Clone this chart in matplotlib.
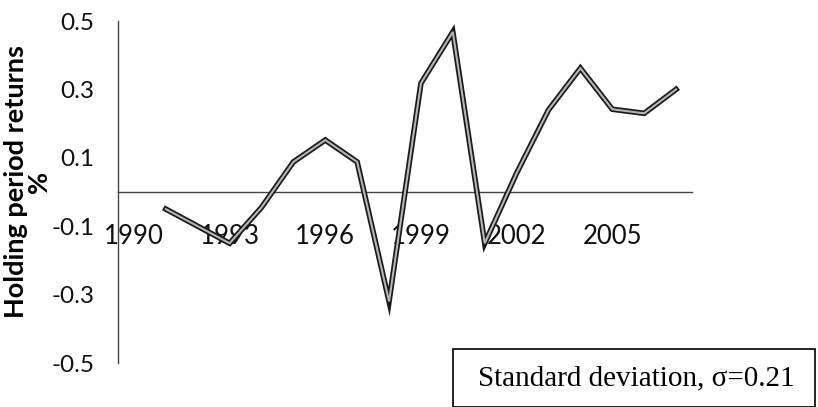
import matplotlib
matplotlib.use("Agg")
import matplotlib.pyplot as plt
from matplotlib.patches import Rectangle

# Annual holding period returns
years = list(range(1990, 2008))
returns = [None, -0.05, -0.10, -0.15, -0.045, 0.088, 0.152, 0.088, -0.32, 0.318,
           0.468, -0.15, 0.055, 0.24, 0.362, 0.242, 0.23, 0.30]
yticks = [-0.5, -0.3, -0.1, 0.1, 0.3, 0.5]
label_years = [1990, 1993, 1996, 1999, 2002, 2005]
note = "Standard deviation, \u03c3=0.21"

plt.rcParams['font.family'] = ['Lato', 'DejaVu Sans']

fig = plt.figure(figsize=(8.18, 4.07), dpi=100)
ax = fig.add_axes([118 / 818, 44 / 407, 574 / 818, 342 / 407])

idx = [i for i, v in enumerate(returns) if v is not None]
vals = [returns[i] for i in idx]
ax.plot(idx, vals, color='#1a1a1a', lw=4.0, solid_joinstyle='miter', zorder=3)
ax.plot(idx, vals, color='#b5b5b5', lw=1.5, solid_joinstyle='miter', zorder=4)

ax.set_xlim(-0.5, len(years) - 0.5)
ax.set_ylim(-0.5, 0.5)

for s in ['top', 'right']:
    ax.spines[s].set_visible(False)
ax.spines['bottom'].set_position(('data', 0))
ax.spines['left'].set_color('#444444')
ax.spines['bottom'].set_color('#444444')
ax.spines['left'].set_linewidth(1.0)
ax.spines['bottom'].set_linewidth(1.0)

ax.set_yticks(yticks)
ax.set_yticklabels([f"{t:g}" for t in yticks])
ax.set_xticks([years.index(y) for y in label_years])
ax.set_xticklabels([str(y) for y in label_years])
ax.tick_params(axis='y', length=0, pad=17, labelsize=17.5, labelcolor='#111111')
ax.tick_params(axis='x', length=0, pad=23, labelsize=18.5, labelcolor='#111111')

fig.text(28 / 818, 1 - 182 / 407, "Holding period returns\n%", rotation=90,
         ha='center', va='center', fontsize=19.5, fontweight='bold',
         linespacing=0.95, multialignment='center')

# Annotation box with the standard deviation
box = Rectangle((453 / 818, 0.0), (815 - 453) / 818, (407 - 349) / 407,
                transform=fig.transFigure, fill=False, edgecolor='black', lw=1.2)
fig.patches.append(box)
fig.text(636 / 818, 1 - 378 / 407, note, ha='center', va='center',
         fontsize=21, family='Liberation Serif')

fig.savefig("out.png", dpi=100)
